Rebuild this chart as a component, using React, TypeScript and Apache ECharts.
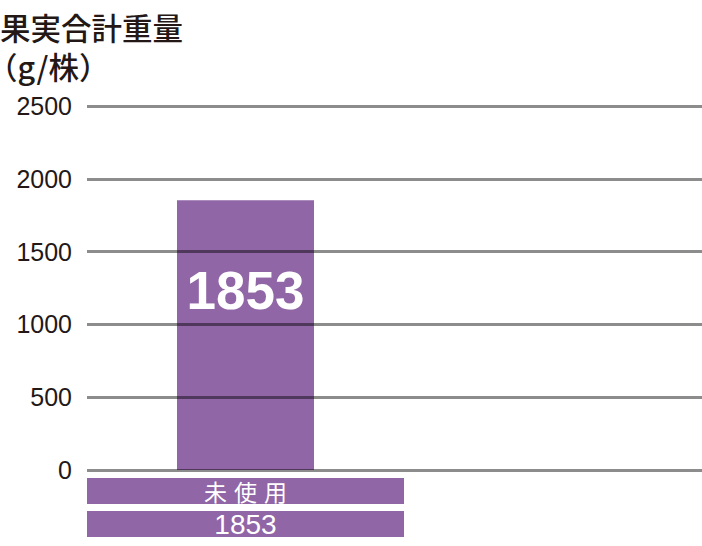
import React, { useEffect, useRef } from "react";
import * as echarts from "echarts";

const categories = ["未使用", ""];
const values: (number | null)[] = [1853, null];
const tableRow = ["1853", ""];
const yTicks = [0, 500, 1000, 1500, 2000, 2500];
const titleLine1 = "果実合計重量";
const titleLine2 = "（g/株）";

const PURPLE = "#9066a6";
const CJK = "'Noto Sans CJK JP', sans-serif";
const LAT = "'Liberation Sans', Arial, sans-serif";

export default function App() {
  const ref = useRef<HTMLDivElement>(null);
  useEffect(() => {
    document.body.style.margin = "0";
    const chart = echarts.init(ref.current!, null, { renderer: "svg" });
    const rowLabel = {
      margin: 8,
      interval: 0,
      backgroundColor: PURPLE,
      color: "#fff",
      lineHeight: 26,
      height: 26,
    };
    chart.setOption({
      animation: false,
      graphic: [
        {
          type: "text",
          x: 0,
          y: 27,
          style: {
            text: titleLine1,
            fontFamily: CJK,
            fontSize: 30.5,
            lineHeight: 30,
            fontWeight: 500,
            fill: "#231815",
            verticalAlign: "middle",
          },
        },
        {
          type: "text",
          x: -13,
          y: 66,
          style: {
            text: titleLine2,
            fontFamily: CJK,
            fontSize: 30.5,
            lineHeight: 30,
            fontWeight: 500,
            fill: "#231815",
            verticalAlign: "middle",
          },
        },
      ],
      grid: { left: 87, right: 0, top: 106, bottom: 76 },
      xAxis: [
        {
          type: "category",
          data: categories,
          axisLine: { show: false },
          axisTick: { show: false },
          axisLabel: {
            ...rowLabel,
            formatter: (v: string) => {
              if (!v) return "";
              const chars = Array.from(v)
                .map((c) => `{c|${c}}`)
                .join("");
              return `{p|}${chars}{p|}`;
            },
            rich: {
              p: { width: 113.5, height: 26, lineHeight: 26, fontSize: 20 },
              c: {
                width: 30,
                height: 26,
                lineHeight: 26,
                fontSize: 23,
                align: "center",
                color: "#fff",
                fontFamily: CJK,
              },
            },
          },
        },
        {
          type: "category",
          data: categories,
          position: "bottom",
          offset: 33,
          axisLine: { show: false },
          axisTick: { show: false },
          axisLabel: {
            ...rowLabel,
            formatter: (v: string, i: number) => (v ? `{b|${tableRow[i]}}` : ""),
            rich: {
              b: {
                width: 317,
                height: 26,
                lineHeight: 26,
                fontSize: 28,
                align: "center",
                color: "#fff",
                fontFamily: LAT,
              },
            },
          },
        },
      ],
      yAxis: {
        type: "value",
        min: yTicks[0],
        max: yTicks[yTicks.length - 1],
        interval: 500,
        z: 10,
        axisLine: { show: false },
        axisTick: { show: false },
        axisLabel: {
          margin: 15,
          fontSize: 25,
          color: "#231815",
          fontFamily: LAT,
          formatter: (v: number) => String(v),
        },
        splitLine: { lineStyle: { color: "rgba(0,0,0,0.45)", width: 3 } },
      },
      series: [
        {
          type: "bar",
          xAxisIndex: 0,
          data: values,
          barWidth: 137,
          itemStyle: { color: PURPLE },
          label: {
            show: true,
            position: ["50%", 90],
            align: "center",
            verticalAlign: "middle",
            color: "#fff",
            fontSize: 53,
            fontWeight: "bold",
            fontFamily: LAT,
          },
        },
      ],
    });
    return () => chart.dispose();
  }, []);
  return (
    <div style={{ position: "absolute", left: 0, top: 0, width: 702, height: 546, overflow: "hidden" }}>
      <div ref={ref} style={{ width: 721, height: 546 }} />
    </div>
  );
}
